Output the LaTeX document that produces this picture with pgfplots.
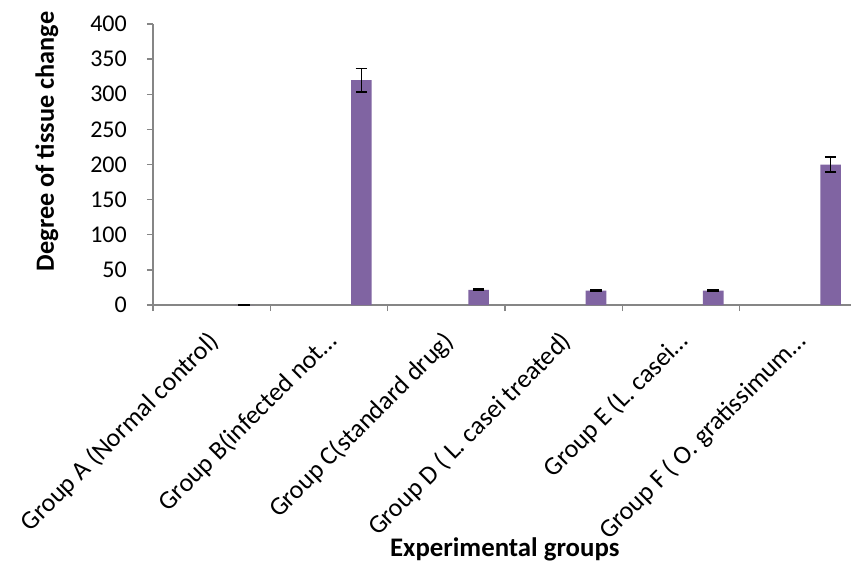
\documentclass[border=0pt]{standalone}
\usepackage{fontspec}
\setmainfont{Carlito}
\usepackage{pgfplots}
\pgfplotsset{compat=1.18}
\definecolor{barpurple}{HTML}{8064A2}
\definecolor{axisgray}{HTML}{868686}
\begin{document}
\begin{tikzpicture}
\useasboundingbox (0,0) rectangle (851bp,570bp);
\begin{axis}[
  at={(153bp,265bp)}, anchor=south west,
  width=698bp, height=281bp, scale only axis,
  xmin=0, xmax=5.95, ymin=0, ymax=400,
  axis lines*=left,
  axis line style={axisgray, line width=1.3bp},
  tick align=outside,
  major tick length=6bp,
  tick style={axisgray, line width=1.3bp},
  ytick={0,50,...,400},
  xtick={0,1,...,5},
  xticklabels={Group A (Normal control), Group B(infected not…, Group C(standard drug), Group D ( L. casei treated), Group E (L. casei…, Group F ( O. gratissimum…},
  xticklabel style={font=\fontsize{26bp}{32bp}\selectfont, xshift=54bp, yshift=-18bp, rotate=45, anchor=north east, inner sep=0pt},
  yticklabel style={font=\fontsize{24bp}{28bp}\selectfont, inner sep=0pt, xshift=-20bp},
  /pgf/number format/assume math mode=true,
  xlabel={\textbf{Experimental groups}},
  ylabel={\textbf{Degree of tissue change}},
  xlabel style={font=\fontsize{26.8bp}{32bp}\selectfont, at={(axis description cs:0.504,-0.87)}, anchor=center},
  ylabel style={font=\fontsize{26.3bp}{32bp}\selectfont, at={(axis description cs:-0.152,0.582)}, anchor=center},
  clip=false,
]
\addplot[ybar, bar width=20.6bp, fill=barpurple, draw=none,
  error bars/.cd, y dir=both, y explicit,
  error bar style={black, line width=1.5bp},
  error mark options={black, line width=1.5bp, mark size=5.8bp, rotate=90}]
  coordinates {
    (0.776,0) +- (0,0)
    (1.776,320) +- (0,16.5)
    (2.776,21.5) +- (0,1)
    (3.776,20.5) +- (0,1)
    (4.776,20.5) +- (0,1)
    (5.776,200) +- (0,10.5)
  };
\end{axis}
\end{tikzpicture}
\end{document}
